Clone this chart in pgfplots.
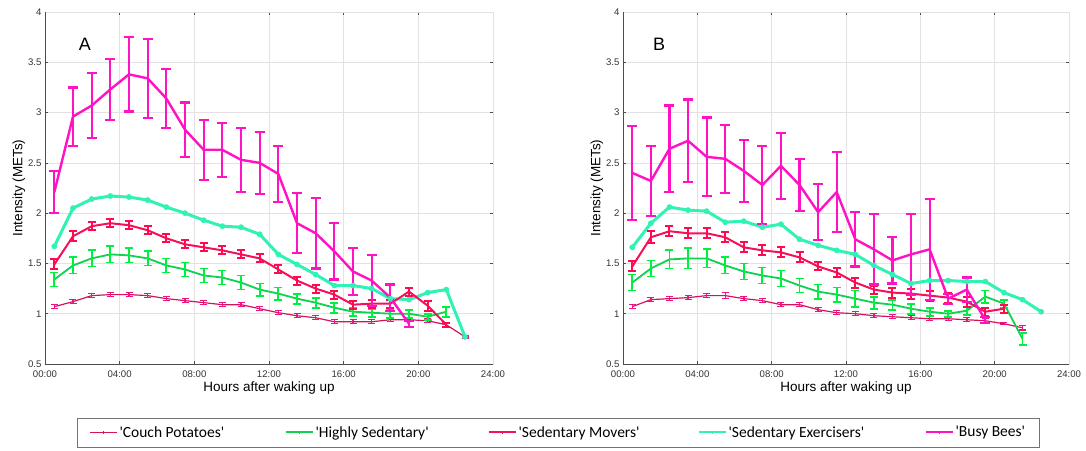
\documentclass[border=0pt]{standalone}
\usepackage{pgfplots}
\pgfplotsset{compat=1.18}
\usepackage{fontspec}
\setmainfont{Liberation Sans}
\newfontfamily\legfont{Carlito}
\definecolor{cpline}{HTML}{D4145A}
\definecolor{cperr}{HTML}{EC1484}
\definecolor{hsline}{HTML}{12D050}
\definecolor{hserr}{HTML}{00F040}
\definecolor{smline}{HTML}{F4105A}
\definecolor{smerr}{HTML}{FF0A50}
\definecolor{seline}{HTML}{30F2B4}
\definecolor{bbline}{HTML}{FF12C4}
\definecolor{gridc}{HTML}{E4E0E4}
\pgfplotsset{
  panel/.style={
    scale only axis, width=448pt, height=352pt,
    xmin=0, xmax=24, ymin=0.5, ymax=4,
    xtick={0,4,...,24}, xticklabels={00:00,04:00,08:00,12:00,16:00,20:00,24:00},
    ytick={0.5,1,...,4},
    grid=major, major grid style={gridc, line width=0.6pt},
    axis line style={gridc, line width=0.6pt},
    tick align=inside, major tick length=3pt,
    tick style={black!70, line width=0.5pt},
    ticklabel style={font=\fontsize{9.6}{10}\selectfont, text=black!80},
    xticklabel style={yshift=-3pt},
    /pgf/number format/assume math mode=true,
    xlabel={Hours after waking up}, ylabel={Intensity (METs)},
    label style={font=\fontsize{13.5}{15}\selectfont},
    xlabel style={yshift=2pt},
    ylabel style={yshift=-4pt},
    clip=false,
    after end axis/.code={
      \draw[black!70, line width=0.7pt] (rel axis cs:0,1) -- (rel axis cs:0,0) -- (rel axis cs:1,0);
    },
  },
  cp/.style={cpline, line width=1.2pt, error bars/y dir=both, error bars/y explicit,
    error bars/error bar style={cperr, line width=1.4pt}, error bars/error mark options={cperr, rotate=90, mark size=3.5pt, line width=1.4pt}},
  hs/.style={hsline, line width=1.8pt, error bars/y dir=both, error bars/y explicit,
    error bars/error bar style={hserr, line width=1.8pt}, error bars/error mark options={hserr, rotate=90, mark size=4pt, line width=1.8pt}},
  sm/.style={smline, line width=2pt, error bars/y dir=both, error bars/y explicit,
    error bars/error bar style={smerr, line width=2pt}, error bars/error mark options={smerr, rotate=90, mark size=4pt, line width=2pt}},
  se/.style={seline, line width=3pt, mark=*, mark size=2.6pt, mark options={seline, fill=seline, line width=0.5pt}},
  bb/.style={bbline, line width=2.4pt, error bars/y dir=both, error bars/y explicit,
    error bars/error bar style={bbline, line width=2.2pt}, error bars/error mark options={bbline, rotate=90, mark size=5pt, line width=2.2pt}},
}
\begin{document}
\begin{tikzpicture}
\path[use as bounding box] (0,0) rectangle (1086pt,450pt);
% ---------------- Panel A ----------------
\begin{axis}[panel, at={(45pt,86pt)}, anchor=south west,
  legend columns=5,
  legend style={at={(1.146,-0.1946)}, anchor=center, draw=black!55, line width=0.6pt,
    font=\legfont\fontsize{15.5}{17}\selectfont, inner xsep=12pt, inner ysep=6.5pt,
    /tikz/every even column/.append style={column sep=0pt}},
  legend cell align=left,
  legend image code/.code={\draw[#1] (0pt,0pt) -- (27pt,0pt); \draw[#1, line width=0.8pt] (13.5pt,-1.5pt) -- (13.5pt,1.5pt);},
]
\addlegendimage{cpline, line width=1.2pt}
\addlegendentry{\makebox[163pt][l]{'Couch Potatoes'}}
\addlegendimage{hsline, line width=2pt}
\addlegendentry{\makebox[170pt][l]{'Highly Sedentary'}}
\addlegendimage{smline, line width=2pt}
\addlegendentry{\makebox[177pt][l]{'Sedentary Movers'}}
\addlegendimage{seline, line width=2pt}
\addlegendentry{\makebox[194pt][l]{'Sedentary Exercisers'}}
\addlegendimage{bbline, line width=2pt}
\addlegendentry{\makebox[70pt][l]{'Busy Bees'}}

\addplot[forget plot, cp] table[x=x, y=y, y error=e] {
x y e
0.5 1.07 0.02
1.5 1.12 0.02
2.5 1.18 0.02
3.5 1.19 0.02
4.5 1.19 0.02
5.5 1.18 0.02
6.5 1.15 0.02
7.5 1.13 0.02
8.5 1.11 0.02
9.5 1.09 0.02
10.5 1.09 0.02
11.5 1.05 0.02
12.5 1.01 0.02
13.5 0.98 0.02
14.5 0.96 0.02
15.5 0.92 0.02
16.5 0.92 0.02
17.5 0.92 0.02
18.5 0.94 0.02
19.5 0.94 0.02
20.5 0.93 0.02
21.5 0.89 0.02
22.5 0.77 0.01
};
\addplot[forget plot, hs] table[x=x, y=y, y error=e] {
x y e
0.5 1.34 0.07
1.5 1.48 0.08
2.5 1.55 0.08
3.5 1.59 0.08
4.5 1.58 0.07
5.5 1.55 0.07
6.5 1.48 0.07
7.5 1.44 0.07
8.5 1.38 0.07
9.5 1.36 0.07
10.5 1.31 0.07
11.5 1.24 0.06
12.5 1.20 0.06
13.5 1.15 0.05
14.5 1.11 0.05
15.5 1.06 0.05
16.5 1.02 0.04
17.5 1.01 0.04
18.5 1.00 0.04
19.5 1.00 0.04
20.5 0.97 0.03
21.5 1.02 0.05
};
\addplot[forget plot, se] table[x=x, y=y] {
x y
0.5 1.67
1.5 2.05
2.5 2.14
3.5 2.17
4.5 2.16
5.5 2.13
6.5 2.06
7.5 2.00
8.5 1.93
9.5 1.87
10.5 1.86
11.5 1.79
12.5 1.59
13.5 1.49
14.5 1.39
15.5 1.28
16.5 1.28
17.5 1.25
18.5 1.15
19.5 1.14
20.5 1.21
21.5 1.24
22.5 0.77
};
\addplot[forget plot, sm] table[x=x, y=y, y error=e] {
x y e
0.5 1.49 0.05
1.5 1.77 0.05
2.5 1.87 0.04
3.5 1.90 0.04
4.5 1.88 0.04
5.5 1.83 0.04
6.5 1.75 0.04
7.5 1.69 0.04
8.5 1.66 0.04
9.5 1.63 0.04
10.5 1.59 0.04
11.5 1.55 0.04
12.5 1.44 0.04
13.5 1.33 0.04
14.5 1.25 0.04
15.5 1.19 0.04
16.5 1.09 0.04
17.5 1.10 0.04
18.5 1.10 0.04
19.5 1.22 0.04
20.5 1.08 0.05
21.5 0.89 0.02
};
\addplot[forget plot, bb] table[x=x, y=y, y error=e] {
x y e
0.5 2.21 0.21
1.5 2.96 0.29
2.5 3.07 0.32
3.5 3.23 0.30
4.5 3.38 0.37
5.5 3.34 0.39
6.5 3.14 0.29
7.5 2.83 0.27
8.5 2.63 0.30
9.5 2.63 0.27
10.5 2.53 0.32
11.5 2.50 0.31
12.5 2.39 0.28
13.5 1.90 0.30
14.5 1.80 0.35
15.5 1.62 0.28
16.5 1.42 0.23
17.5 1.33 0.25
18.5 1.16 0.13
19.5 0.90 0.03
};
\node[font=\fontsize{18}{19}\selectfont] at (axis cs:2.14,3.68) {A};
\end{axis}
% ---------------- Panel B ----------------
\begin{axis}[panel, at={(623pt,86pt)}, anchor=south west, width=446pt]
\addplot[cp] table[x=x, y=y, y error=e] {
x y e
0.5 1.07 0.02
1.5 1.14 0.02
2.5 1.15 0.02
3.5 1.16 0.02
4.5 1.18 0.02
5.5 1.18 0.03
6.5 1.15 0.02
7.5 1.13 0.02
8.5 1.09 0.02
9.5 1.09 0.02
10.5 1.04 0.02
11.5 1.01 0.02
12.5 1.00 0.02
13.5 0.98 0.02
14.5 0.97 0.02
15.5 0.96 0.02
16.5 0.95 0.02
17.5 0.95 0.02
18.5 0.94 0.02
19.5 0.93 0.02
20.5 0.90 0.01
21.5 0.86 0.02
};
\addplot[hs] table[x=x, y=y, y error=e] {
x y e
0.5 1.31 0.08
1.5 1.45 0.08
2.5 1.54 0.09
3.5 1.55 0.10
4.5 1.55 0.09
5.5 1.48 0.08
6.5 1.42 0.08
7.5 1.38 0.08
8.5 1.35 0.08
9.5 1.28 0.07
10.5 1.22 0.07
11.5 1.19 0.07
12.5 1.15 0.08
13.5 1.11 0.06
14.5 1.09 0.05
15.5 1.05 0.05
16.5 1.02 0.04
17.5 1.00 0.03
18.5 1.03 0.04
19.5 1.17 0.06
20.5 1.10 0.04
21.5 0.75 0.06
};
\addplot[se] table[x=x, y=y] {
x y
0.5 1.66
1.5 1.90
2.5 2.06
3.5 2.03
4.5 2.02
5.5 1.91
6.5 1.92
7.5 1.86
8.5 1.89
9.5 1.74
10.5 1.68
11.5 1.63
12.5 1.59
13.5 1.48
14.5 1.39
15.5 1.30
16.5 1.33
17.5 1.33
18.5 1.32
19.5 1.32
20.5 1.21
21.5 1.14
22.5 1.02
};
\addplot[sm] table[x=x, y=y, y error=e] {
x y e
0.5 1.47 0.05
1.5 1.76 0.06
2.5 1.82 0.05
3.5 1.80 0.05
4.5 1.80 0.05
5.5 1.76 0.05
6.5 1.66 0.05
7.5 1.63 0.05
8.5 1.61 0.05
9.5 1.56 0.05
10.5 1.47 0.04
11.5 1.41 0.04
12.5 1.31 0.05
13.5 1.24 0.04
14.5 1.21 0.05
15.5 1.20 0.05
16.5 1.18 0.05
17.5 1.16 0.05
18.5 1.12 0.05
19.5 1.02 0.04
20.5 1.05 0.04
};
\addplot[bb] table[x=x, y=y, y error=e] {
x y e
0.5 2.40 0.47
1.5 2.32 0.35
2.5 2.64 0.43
3.5 2.72 0.41
4.5 2.56 0.39
5.5 2.54 0.34
6.5 2.42 0.31
7.5 2.28 0.39
8.5 2.47 0.33
9.5 2.28 0.26
10.5 2.01 0.28
11.5 2.21 0.40
12.5 1.74 0.27
13.5 1.64 0.35
14.5 1.53 0.23
15.5 1.59 0.40
16.5 1.64 0.50
17.5 1.15 0.05
18.5 1.24 0.12
19.5 0.94 0.03
};
\node[font=\fontsize{18}{19}\selectfont] at (axis cs:1.94,3.68) {B};
\end{axis}
\end{tikzpicture}
\end{document}
